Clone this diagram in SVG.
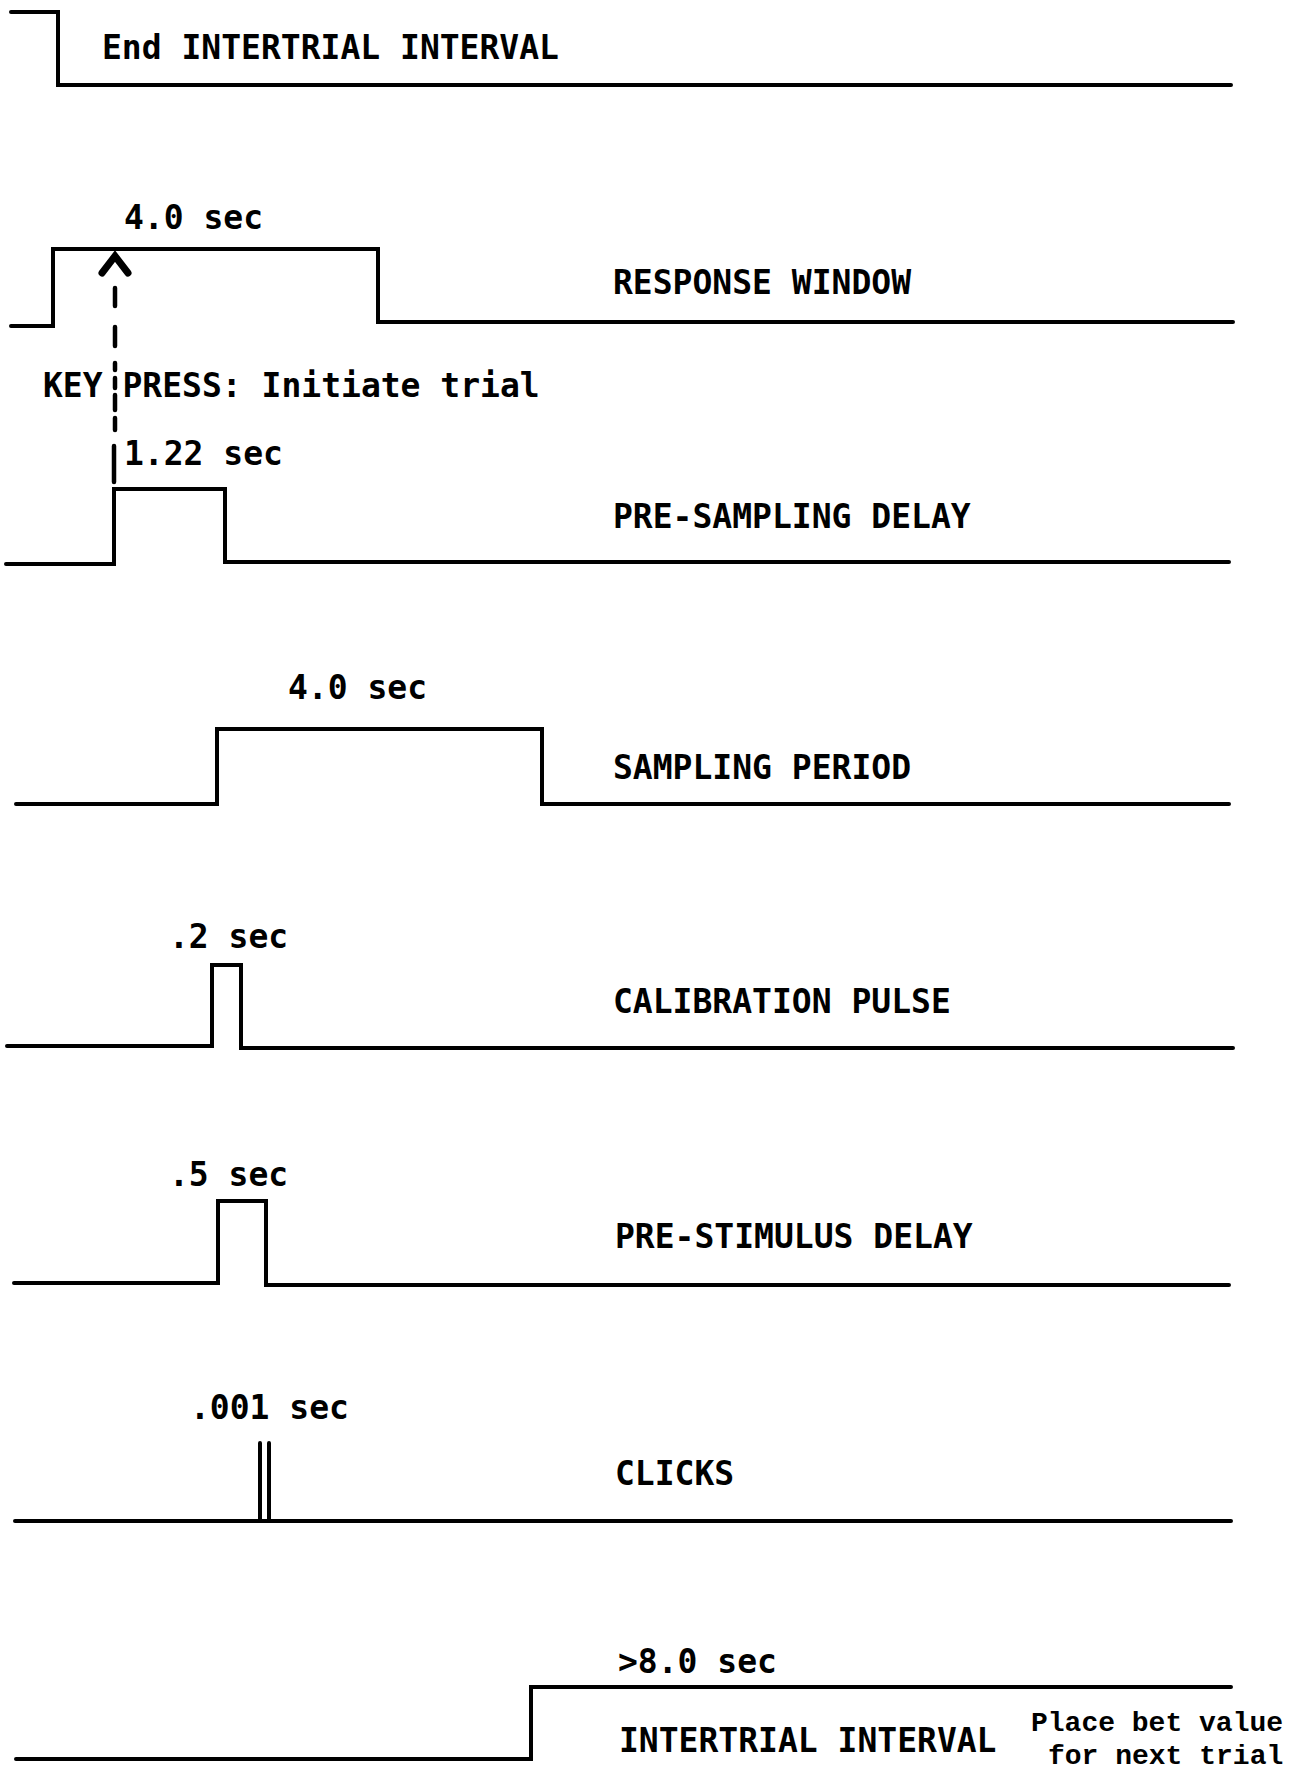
<svg xmlns="http://www.w3.org/2000/svg" width="1294" height="1770" viewBox="0 0 1294 1770">
<style>
.sig{fill:none;stroke:#000;stroke-width:4;stroke-linejoin:miter;stroke-linecap:round}
.lbl{font-family:"DejaVu Sans Mono","Liberation Mono",monospace;font-size:33px;font-weight:bold;fill:#000}
.note{font-family:"Liberation Mono","Courier New",monospace;font-size:28px;font-weight:bold;fill:#000}
.dash{stroke:#000;stroke-width:4.5;stroke-linecap:round}
</style>
<rect width="1294" height="1770" fill="#fff"/>
<g id="end-intertrial">
<path class="sig" d="M11,12 H58 V85 H1231"/>
<text class="lbl" x="102" y="59">End INTERTRIAL INTERVAL</text>
</g>
<g id="response-window">
<path class="sig" d="M11,326 H53 V249 H378 V322 H1233"/>
<text class="lbl" x="124" y="229">4.0 sec</text>
<text class="lbl" x="613" y="294">RESPONSE WINDOW</text>
</g>
<g id="pre-sampling-delay">
<path class="sig" d="M6,564 H114 V489 H225 V562 H1229"/>
<text class="lbl" x="124" y="465">1.22 sec</text>
<text class="lbl" x="613" y="528">PRE-SAMPLING DELAY</text>
</g>
<g id="key-press">
<text class="lbl" x="43" y="397">KEY PRESS: Initiate trial</text>
</g>
<g id="sampling-period">
<path class="sig" d="M16,804 H217 V729 H542 V804 H1229"/>
<text class="lbl" x="288" y="699">4.0 sec</text>
<text class="lbl" x="613" y="779">SAMPLING PERIOD</text>
</g>
<g id="calibration-pulse">
<path class="sig" d="M7,1046 H212 V965 H241 V1048 H1233"/>
<text class="lbl" x="169" y="948">.2 sec</text>
<text class="lbl" x="613" y="1013">CALIBRATION PULSE</text>
</g>
<g id="pre-stimulus-delay">
<path class="sig" d="M14,1283 H218 V1201 H266 V1285 H1229"/>
<text class="lbl" x="169" y="1186">.5 sec</text>
<text class="lbl" x="615" y="1248">PRE-STIMULUS DELAY</text>
</g>
<g id="clicks">
<path class="sig" d="M15,1521 H1231"/>
<path class="sig" d="M260,1443 V1520 M269,1443 V1520"/>
<text class="lbl" x="190" y="1419">.001 sec</text>
<text class="lbl" x="615" y="1485">CLICKS</text>
</g>
<g id="intertrial-interval">
<path class="sig" d="M16,1759 H531 V1687 H1231"/>
<text class="lbl" x="618" y="1673">&gt;8.0 sec</text>
<text class="lbl" x="619" y="1752">INTERTRIAL INTERVAL</text>
<text class="note" x="1031" y="1731">Place bet value</text>
<text class="note" x="1048" y="1764">for next trial</text>
</g>
<g id="connectors">
<path d="M102,273 L115,256 L128,273" fill="none" stroke="#000" stroke-width="7" stroke-linecap="round" stroke-linejoin="miter"/>
<line class="dash" x1="115" y1="288" x2="115" y2="306"/>
<line class="dash" x1="115" y1="327" x2="115" y2="346"/>
<line class="dash" x1="115" y1="363" x2="115" y2="370"/>
<line class="dash" x1="115" y1="378" x2="115" y2="388"/>
<line class="dash" x1="115" y1="395" x2="115" y2="410"/>
<line class="dash" x1="115" y1="418" x2="115" y2="430"/>
<line class="dash" x1="114" y1="446" x2="114" y2="482"/>
</g>
</svg>
